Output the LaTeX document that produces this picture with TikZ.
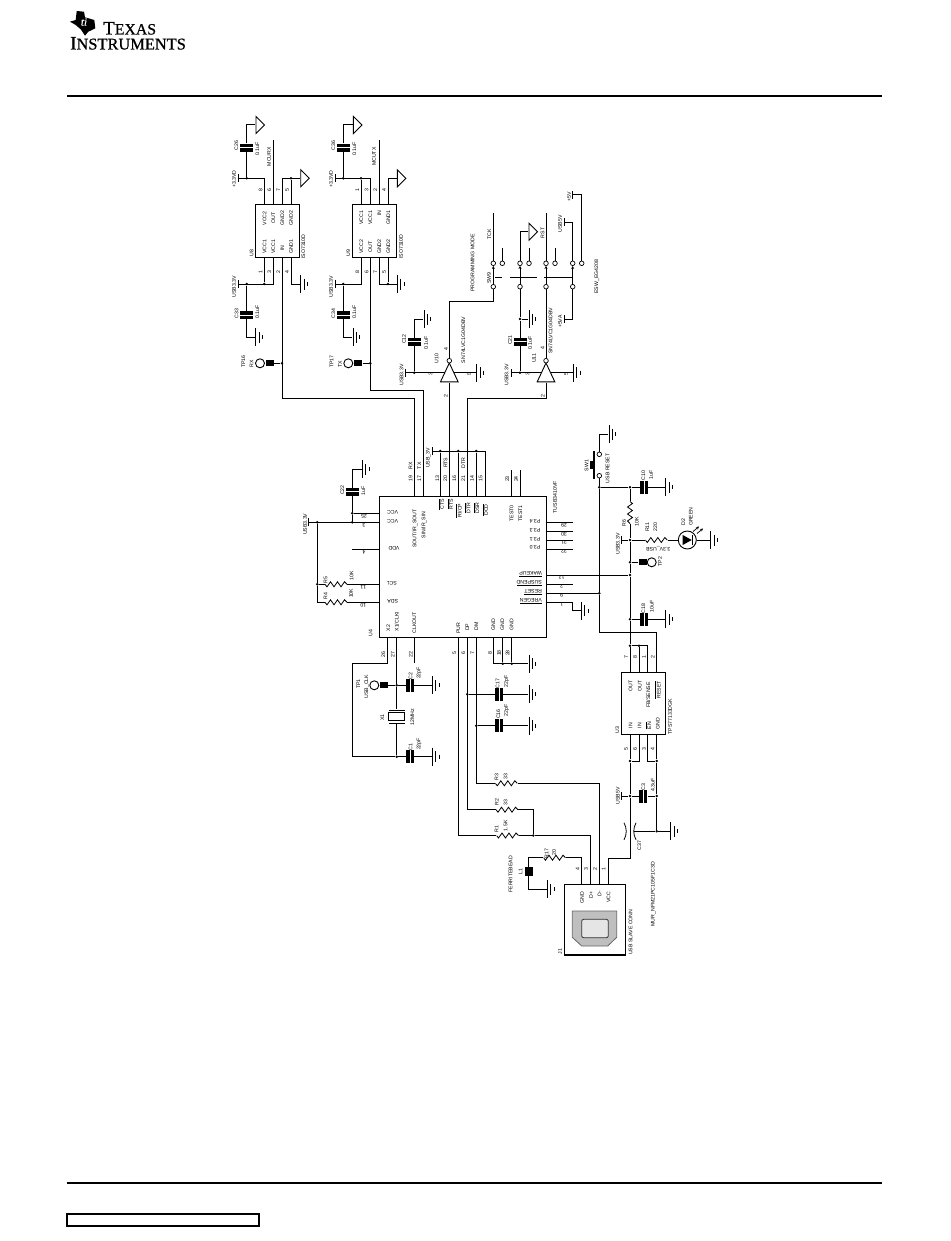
\documentclass[tikz,border=0pt]{standalone}
\usepackage{fontspec}
\setmainfont{Liberation Sans}
\newfontfamily\logofont[FakeBold=0.7]{Liberation Serif}
\usepackage{tikz}
\usetikzlibrary{arrows.meta,positioning,shapes,calc}
\newcommand{\ovr}[1]{$\overline{\mbox{#1}}$}

\begin{document}
\begin{tikzpicture}[
    x=1pt, y=-1pt,
    wire/.style={line width=1pt},
    lb/.style={inner sep=0pt, rotate=90, font=\fontsize{5.2}{6}\selectfont},
    lr/.style={inner sep=0pt, rotate=180, font=\fontsize{5.2}{6}\selectfont},
    chip/.style={rectangle, draw, line width=1.1pt, inner sep=0pt},
    dot/.style={circle, fill=black, inner sep=0pt, minimum size=2.8pt},
    pad/.style={circle, draw, line width=0.7pt, fill=white, inner sep=0pt, minimum size=4.6pt},
    tpad/.style={circle, draw, line width=0.9pt, fill=white, inner sep=0pt, minimum size=9pt},
    tsq/.style={rectangle, fill=black, inner sep=0pt, minimum width=8pt, minimum height=6pt},
    pwr/.style={rectangle, fill=black, inner sep=0pt, minimum width=1pt, minimum height=8pt},
    capa/.style={rectangle, fill=black, inner sep=0pt, minimum width=13pt, minimum height=8pt,
        path picture={\draw[white, line width=1pt] (path picture bounding box.west) -- (path picture bounding box.east);}},
    capb/.style={rectangle, fill=black, inner sep=0pt, minimum width=8pt, minimum height=13pt,
        path picture={\draw[white, line width=1pt] (path picture bounding box.north) -- (path picture bounding box.south);}},
    gnd/.style={rectangle, anchor=west, inner sep=0pt, minimum width=10pt, minimum height=20pt,
        path picture={\draw[line width=0.9pt, shift={(path picture bounding box.center)}]
            (-4.5,-9) -- (-4.5,9) (-1.2,-5.5) -- (-1.2,5.5) (2.2,-2) -- (2.2,2);}},
    tri/.style={rectangle, anchor=west, inner sep=0pt, minimum width=10pt, minimum height=19pt,
        path picture={\draw[line width=0.9pt, shift={(path picture bounding box.center)}]
            (-4.5,-8.5) -- (4,0) -- (-4.5,8.5) -- cycle;}},
    res/.style={rectangle, inner sep=0pt, minimum width=22pt, minimum height=7pt,
        path picture={\draw[line width=0.8pt, shift={(path picture bounding box.center)}]
            (-11,0) -- (-9,2.5) -- (-5.5,-2.5) -- (-2,2.5) -- (1.5,-2.5) -- (5,2.5) -- (8.5,-2.5) -- (11,0);}},
    resv/.style={rectangle, inner sep=0pt, minimum width=7pt, minimum height=22pt,
        path picture={\draw[line width=0.8pt, shift={(path picture bounding box.center)}]
            (0,-11) -- (2.5,-9) -- (-2.5,-5.5) -- (2.5,-2) -- (-2.5,1.5) -- (2.5,5) -- (-2.5,8.5) -- (0,11);}},
    inv/.style={rectangle, inner sep=0pt, minimum width=19pt, minimum height=20pt,
        path picture={\draw[line width=0.9pt, shift={(path picture bounding box.center)}]
            (0,-9.4) -- (8.8,9.4) -- (-8.8,9.4) -- cycle;}},
    xtal/.style={rectangle, inner sep=0pt, minimum width=17pt, minimum height=14.4pt,
        path picture={\draw[line width=0.9pt, shift={(path picture bounding box.center)}]
            (-7.8,-6.7) -- (7.8,-6.7) (-7.8,6.7) -- (7.8,6.7) (-7.8,-3.8) rectangle (7.8,3.8);}},
    feed/.style={rectangle, inner sep=0pt, minimum width=14pt, minimum height=18pt,
        path picture={\draw[line width=0.8pt, shift={(path picture bounding box.center)}]
            (-6,-8.5) .. controls (-3,-3) and (-3,3) .. (-6,8.5)
            (6,-8.5) .. controls (3,-3) and (3,3) .. (6,8.5);}},
    ledc/.style={circle, draw, line width=0.9pt, inner sep=0pt, minimum size=18pt,
        path picture={\fill[shift={(path picture bounding box.center)}] (-4.6,-5) -- (4.4,0) -- (-4.6,5) -- cycle;
            \draw[line width=0.9pt, shift={(path picture bounding box.center)}] (4.8,-5) -- (4.8,5);}},
    rarrow/.style={-{Stealth[length=3pt,width=3pt]}, line width=0.7pt}
]
    \useasboundingbox (0,0) rectangle (950,1241);

    % Logo and page frame
    \fill (76.7,11) -- (84,11.7) -- (85,17.3) -- (94.3,20) -- (95.3,28.3) -- (88.3,31.7) -- (85,35.7)
        -- (80.7,29.3) -- (75.7,25) -- (70,21.7) -- (75.7,20) -- cycle;
    \node[inner sep=0pt, white, font=\logofont\itshape\fontsize{11}{11}\selectfont] (logoti) at (84,22) {ti};
    \node[anchor=base west, inner sep=0pt, font=\logofont] (logoa) at (103,34.5) {\fontsize{19}{19}\selectfont T\fontsize{15.8}{16}\selectfont EXAS};
    \node[anchor=base west, inner sep=0pt, font=\logofont] (logob) at (70,49.5) {\fontsize{19}{19}\selectfont I\fontsize{16.4}{16}\selectfont NSTRUMENTS};
    \coordinate (topl) at (67,96); \coordinate (topr) at (882,96);
    \coordinate (botl) at (67,1183); \coordinate (botr) at (882,1183);
    \draw[line width=2.4pt] (topl) -- (topr);
    \draw[line width=2pt] (botl) -- (botr);
    \draw[line width=1.5pt] (67,1214) rectangle (259,1226);

    % U8 isolator
    \node[chip, minimum width=44pt, minimum height=53.4pt] (u8) at (277.3,231) {};
    \coordinate (u8p8) at (264.3,204.3); \coordinate (u8p6) at (273.3,204.3);
    \coordinate (u8p7) at (282,204.3); \coordinate (u8p5) at (291,204.3);
    \coordinate (u8p1) at (264.3,257.7); \coordinate (u8p3) at (273.3,257.7);
    \coordinate (u8p2) at (282,257.7); \coordinate (u8p4) at (291,257.7);
    \coordinate (mcurx) at (273.3,140);
    \coordinate (rxk) at (414.3,398.3);
    \node[pwr] (vd8) at (238.3,178.3) {};
    \node[pwr] (usb8) at (238.3,284) {};
    \node[dot] (d8a) at (246.7,178.3) {};
    \node[dot] (d8b) at (246.7,284) {};
    \node[dot] (d8c) at (264.3,284) {};
    \node[dot] (d8d) at (291,178.3) {};
    \node[dot] (d8e) at (282,363.3) {};
    \node[capa] (c26) at (246.7,147.7) {};
    \node[capa] (c33) at (246.7,315) {};
    \node[tri] (t8a) at (255.3,125) {};
    \node[tri] (t8b) at (300,178.3) {};
    \node[gnd] (g8) at (300,284) {};
    \node[gnd] (g33) at (255,337.3) {};
    \node[tpad] (tp16c) at (260,363.3) {};
    \node[tsq] (tp16s) at (270,363.3) {};

    % U9 isolator
    \node[chip, minimum width=44.4pt, minimum height=53.4pt] (u9) at (374.5,231) {};
    \coordinate (u9p1) at (361,204.3); \coordinate (u9p3) at (370.3,204.3);
    \coordinate (u9p2) at (379.3,204.3); \coordinate (u9p4) at (388,204.3);
    \coordinate (u9p8) at (361,257.7); \coordinate (u9p6) at (370.3,257.7);
    \coordinate (u9p7) at (379.3,257.7); \coordinate (u9p5) at (388,257.7);
    \coordinate (mcutx) at (379.3,140);
    \coordinate (txk) at (423.3,390);
    \node[pwr] (vd9) at (335,178.3) {};
    \node[pwr] (usb9) at (335,284) {};
    \node[dot] (d9a) at (343.3,178.3) {};
    \node[dot] (d9b) at (343.3,284) {};
    \node[dot] (d9c) at (361,178.3) {};
    \node[dot] (d9d) at (388,284) {};
    \node[dot] (d9e) at (370.3,363.3) {};
    \node[capa] (c36) at (343.3,147.7) {};
    \node[capa] (c34) at (343.3,315) {};
    \node[tri] (t9a) at (352.7,125) {};
    \node[tri] (t9b) at (396.7,178.3) {};
    \node[gnd] (g9) at (396.7,284) {};
    \node[gnd] (g34) at (352.3,337.3) {};
    \node[tpad] (tp17c) at (348.3,363.3) {};
    \node[tsq] (tp17s) at (358.3,363.3) {};

    % Inverters
    \node[inv] (u10) at (449.3,372.4) {};
    \node[pad] (u10i) at (449.3,360.7) {};
    \coordinate (u10l) at (444.7,372.7); \coordinate (u10r) at (453.9,372.7);
    \node[pwr] (pw10) at (405,372.7) {};
    \node[dot] (d10) at (414.3,372.7) {};
    \node[capa] (c12) at (414.3,341.7) {};
    \node[gnd] (g12) at (423.3,319) {};
    \node[gnd] (g10) at (476,372.7) {};
    \node[inv] (u11) at (546,372.4) {};
    \node[pad] (u11i) at (546,360.7) {};
    \coordinate (u11l) at (541.4,372.7); \coordinate (u11r) at (550.6,372.7);
    \node[pwr] (pw11) at (511.7,372.7) {};
    \node[dot] (d11) at (520,372.7) {};
    \node[dot] (d21) at (520,319) {};
    \node[capa] (c21) at (520,341.7) {};
    \node[gnd] (g21) at (528.3,319) {};
    \node[gnd] (g11) at (572.7,372.7) {};

    % Mode switch
    \foreach \nm/\x in {a/493.3, b/520, c/546, d/572.7} {
        \node[pad] (sw\nm t) at (\x,263.3) {};
        \node[pad] (sw\nm b) at (\x,286.7) {};
        \draw[rarrow] (sw\nm b) -- (sw\nm t);
    }
    \node[pad] (swax) at (502.3,263.3) {};
    \node[pad] (swbx) at (529,263.3) {};
    \node[pad] (swcx) at (555,263.3) {};
    \node[pad] (swdx) at (581.7,263.3) {};
    \coordinate (stuba) at (502.3,248.3); \coordinate (stubb) at (529,248.3); \coordinate (stubc) at (555,248.3);
    \coordinate (tck) at (493.3,213.3); \coordinate (rst) at (546,213.3);
    \coordinate (dsa) at (495,277.3); \coordinate (dsb) at (501.7,277.3);
    \coordinate (dsc) at (510,277.3); \coordinate (dsd) at (536.7,277.3);
    \coordinate (dse) at (544.3,277.3); \coordinate (dsf) at (571.7,277.3);
    \coordinate (swk) at (493.3,301.3);
    \node[tri] (trst) at (528.3,231.7) {};
    \node[pwr] (p5v) at (572.7,195) {};
    \node[pwr] (pusb5) at (564.7,222.3) {};
    \node[pwr] (p5va) at (564.7,319) {};

    % U4 bridge
    \node[chip, minimum width=167.4pt, minimum height=140.6pt] (u4) at (463,567) {};
    \coordinate (p19) at (414.3,496.7); \coordinate (p17) at (423.3,496.7);
    \coordinate (p13) at (440.3,496.7); \coordinate (p20) at (449.3,496.7);
    \coordinate (p16) at (458.3,496.7); \coordinate (p21) at (467.3,496.7);
    \coordinate (p14) at (476.3,496.7); \coordinate (p15) at (485,496.7);
    \coordinate (p23) at (511.7,496.7); \coordinate (p24) at (520.3,496.7);
    \coordinate (p23e) at (511.7,470); \coordinate (p24e) at (520.3,470);
    \coordinate (dtrk) at (467.3,398.3);
    \node[pwr] (pbus) at (432,451) {};
    \node[dot] (db13) at (440.3,451) {};
    \node[dot] (db16) at (458.3,451) {};
    \node[dot] (db14) at (476.3,451) {};
    \coordinate (p25) at (379.3,513.3); \coordinate (p3) at (379.3,522.3);
    \coordinate (p4) at (379.3,549.3); \coordinate (p4e) at (352.3,549.3);
    \coordinate (p11) at (379.3,584.3); \coordinate (p10) at (379.3,602.3);
    \node[pwr] (pu4) at (308.3,522.3) {};
    \node[dot] (dv0) at (317.3,522.3) {};
    \node[dot] (dv1) at (352.3,522.3) {};
    \node[dot] (dv2) at (352.3,513.3) {};
    \node[dot] (dv3) at (317.3,584.3) {};
    \node[capa] (c22) at (352.3,491.7) {};
    \node[gnd] (g22) at (361.7,469.3) {};
    \node[res] (r5) at (336,584.3) {};
    \node[res] (r4) at (336,602.3) {};
    \coordinate (p29) at (546.7,522.3); \coordinate (p29e) at (573.3,522.3);
    \coordinate (p30) at (546.7,531.3); \coordinate (p30e) at (573.3,531.3);
    \coordinate (p31) at (546.7,540.3); \coordinate (p31e) at (573.3,540.3);
    \coordinate (p32) at (546.7,549); \coordinate (p32e) at (573.3,549);
    \coordinate (p12) at (546.7,575); \coordinate (p2) at (546.7,584.3);
    \coordinate (p2e) at (573.3,584.3); \coordinate (p9) at (546.7,593.3);
    \coordinate (p1) at (546.7,602.3); \coordinate (p1k) at (572.3,602.3);
    \node[gnd] (g1) at (580.7,610.7) {};
    \coordinate (px2) at (387.3,637.3); \coordinate (px1) at (396.7,637.3);
    \coordinate (pclk) at (414.3,637.3); \coordinate (pclke) at (414.3,663);
    \coordinate (ppur) at (458.3,637.3); \coordinate (pdp) at (467.3,637.3);
    \coordinate (pdm) at (476.3,637.3);
    \coordinate (pg8) at (493.7,637.3); \coordinate (pg18) at (502.7,637.3); \coordinate (pg28) at (511.7,637.3);
    \coordinate (xk) at (352.3,663.3);
    \node[dot] (dg18) at (502.7,663.7) {};
    \node[dot] (dg28) at (511.7,663.7) {};
    \node[gnd] (g28) at (528.3,663.7) {};

    % Clock
    \node[dot] (dc2) at (396.7,685.3) {};
    \node[dot] (dc1) at (396.7,756.7) {};
    \node[capb] (c2) at (410,685.3) {};
    \node[capb] (c1) at (410,756.7) {};
    \node[gnd] (gc2) at (431.7,685.3) {};
    \node[gnd] (gc1) at (431.7,756.7) {};
    \node[xtal] (x1) at (396.7,716.7) {};
    \node[tpad] (tp1c) at (374.3,685.3) {};
    \node[tsq] (tp1s) at (384,685.3) {};

    % USB lines
    \node[dot] (ddp) at (467.3,694.3) {};
    \node[dot] (ddm) at (476.3,725.7) {};
    \node[capb] (c17) at (499,694.3) {};
    \node[capb] (c16) at (499,725.7) {};
    \node[gnd] (g17) at (528.3,694.3) {};
    \node[gnd] (g16) at (528.3,725.7) {};
    \node[res] (r3) at (506.3,783.3) {};
    \node[res] (r2) at (507,809.7) {};
    \node[res] (r1) at (507.5,835.5) {};
    \node[dot] (dr) at (533.3,835.5) {};
    \node[res] (r17) at (554.5,857.7) {};
    \node[rectangle, fill=black, inner sep=0pt, minimum width=8pt, minimum height=9pt] (l1) at (528.7,871.2) {};
    \node[gnd] (gl1) at (546.7,889.3) {};

    % J1 connector
    \node[chip, minimum width=60.6pt, minimum height=70.7pt] (j1) at (595,919.6) {};
    \coordinate (j1p4) at (581.7,884.3); \coordinate (j1p3) at (590.3,884.3);
    \coordinate (j1p2) at (599.3,884.3); \coordinate (j1p1) at (608,884.3);
    \coordinate (j1k) at (608,858.3);
    \draw[line width=0.8pt, black!60, fill=black!25] (572.3,911) -- (616.7,911) -- (616.7,937.3) -- (607.7,946) -- (581.7,946) -- (572.3,937.3) -- cycle;
    \draw[line width=0.8pt, black!80, fill=black!10, rounded corners=2pt] (581.7,919.3) rectangle (608.3,937.7);

    % Reset and LDO
    \node[rectangle, fill=black, inner sep=0pt, minimum width=1.6pt, minimum height=28.6pt] (sw1bar) at (594,465) {};
    \node[rectangle, fill=black, inner sep=0pt, minimum width=4pt, minimum height=8.6pt] (sw1btn) at (591.5,465) {};
    \node[pad] (sw1u) at (599.3,454.3) {};
    \node[pad] (sw1d) at (599.3,475.7) {};
    \node[gnd] (gsw1) at (608.3,434.3) {};
    \node[dot] (dra) at (599.3,487.3) {};
    \node[dot] (drb) at (599.3,593.3) {};
    \node[dot] (dla) at (630,487.3) {};
    \node[dot] (dlb) at (630,540) {};
    \node[dot] (dlc) at (630,562.3) {};
    \node[dot] (dld) at (630,575) {};
    \node[dot] (dle) at (630,619.3) {};
    \node[dot] (dlf) at (630,645.7) {};
    \node[dot] (dlg) at (639,645.7) {};
    \node[capb] (c10) at (644,487.3) {};
    \node[capb] (c18) at (644,619.3) {};
    \node[gnd] (g10b) at (665,487.3) {};
    \node[gnd] (g18) at (665,619.3) {};
    \node[resv] (r6) at (630,512.5) {};
    \node[res] (r11) at (656.3,540) {};
    \node[pwr] (pled) at (621.7,540) {};
    \node[ledc] (d2) at (687.3,540) {};
    \node[gnd] (gd2) at (710,540) {};
    \coordinate (lea) at (693,531.5); \coordinate (leb) at (699,526.5);
    \coordinate (lec) at (697,533.5); \coordinate (led) at (703,528.5);
    \node[tsq] (tp2s) at (642.5,562.3) {};
    \node[tpad] (tp2c) at (651.7,562.3) {};
    \node[chip, minimum width=44pt, minimum height=62pt] (u3) at (643.7,703.3) {};
    \coordinate (u3p7) at (630,672.3); \coordinate (u3p8) at (639,672.3);
    \coordinate (u3p1) at (647.7,672.3); \coordinate (u3p2) at (656.7,672.3);
    \coordinate (u3p5) at (630,734.3); \coordinate (u3p6) at (639,734.3);
    \coordinate (u3p3) at (647.7,734.3); \coordinate (u3p4) at (656.7,734.3);
    \coordinate (u3k) at (656.7,632.3);
    \node[dot] (dia) at (630,761) {};
    \node[dot] (dib) at (656.7,761) {};
    \node[dot] (dic) at (630,796) {};
    \node[dot] (did) at (656.7,796) {};
    \node[dot] (die) at (656.7,831.3) {};
    \node[capb] (c3) at (643.3,796) {};
    \node[pwr] (pin) at (621,796) {};
    \node[feed] (c37) at (630,831.3) {};
    \coordinate (c37r) at (633.5,831.3);
    \node[gnd] (g37) at (670,831.3) {};

    % Wires, U8
    \draw[wire] (vd8) -| (u8p8);
    \draw[wire] (d8a) -- (c26.south);
    \draw[wire] (c26.north) |- (t8a.west);
    \draw[wire] (u8p6) -- (mcurx);
    \draw[wire] (u8p7) |- (t8b.west);
    \draw[wire] (d8d) -- (u8p5);
    \draw[wire] (usb8) -| (u8p3);
    \draw[wire] (d8c) -- (u8p1);
    \draw[wire] (u8p4) |- (g8.west);
    \draw[wire] (d8b) -- (c33.north);
    \draw[wire] (c33.south) |- (g33.west);
    \draw[wire] (u8p2) |- (rxk) -- (p19);
    \draw[wire] (tp16s) -- (d8e);

    % Wires, U9
    \draw[wire] (vd9) -| (u9p3);
    \draw[wire] (d9c) -- (u9p1);
    \draw[wire] (d9a) -- (c36.south);
    \draw[wire] (c36.north) |- (t9a.west);
    \draw[wire] (u9p2) -- (mcutx);
    \draw[wire] (u9p4) |- (t9b.west);
    \draw[wire] (usb9) -| (u9p8);
    \draw[wire] (u9p7) |- (g9.west);
    \draw[wire] (d9d) -- (u9p5);
    \draw[wire] (d9b) -- (c34.north);
    \draw[wire] (c34.south) |- (g34.west);
    \draw[wire] (u9p6) |- (txk) -- (p17);
    \draw[wire] (tp17s) -- (d9e);

    % Wires, inverters and switch
    \draw[wire] (pw10) -- (u10l);
    \draw[wire] (u10r) -- (g10.west);
    \draw[wire] (d10) -- (c12.south);
    \draw[wire] (c12.north) |- (g12.west);
    \draw[wire] (u10.south) -- (p20);
    \draw[wire] (u10i) |- (swk) -- (swab);
    \draw[wire] (pw11) -- (u11l);
    \draw[wire] (u11r) -- (g11.west);
    \draw[wire] (d11) -- (c21.south);
    \draw[wire] (c21.north) -- (d21);
    \draw[wire] (d21) -- (g21.west);
    \draw[wire] (d21) -- (swbb);
    \draw[wire] (u11.south) |- (dtrk) -- (p21);
    \draw[wire] (u11i) -- (swcb);
    \draw[wire] (swat) -- (tck);
    \draw[wire] (swct) -- (rst);
    \draw[wire] (swbt) |- (trst.west);
    \draw[wire] (swdt) |- (pusb5);
    \draw[wire] (swdb) |- (p5va);
    \draw[wire] (swdx) |- (p5v);
    \draw[wire] (swax) -- (stuba);
    \draw[wire] (swbx) -- (stubb);
    \draw[wire] (swcx) -- (stubc);
    \draw[wire] (dsa) -- (dsb);
    \draw[wire] (dsc) -- (dsd);
    \draw[wire] (dse) -- (dsf);

    % Wires, U4
    \draw[wire] (pbus) -| (p15);
    \draw[wire] (db13) -- (p13);
    \draw[wire] (db16) -- (p16);
    \draw[wire] (db14) -- (p14);
    \draw[wire] (p23) -- (p23e);
    \draw[wire] (p24) -- (p24e);
    \draw[wire] (pu4) -- (p3);
    \draw[wire] (dv2) -- (p25);
    \draw[wire] (dv1) -- (dv2);
    \draw[wire] (dv2) -- (c22.south);
    \draw[wire] (c22.north) |- (g22.west);
    \draw[wire] (p4) -- (p4e);
    \draw[wire] (dv0) -- (dv3);
    \draw[wire] (dv3) -- (r5.west);
    \draw[wire] (dv3) |- (r4.west);
    \draw[wire] (r5.east) -- (p11);
    \draw[wire] (r4.east) -- (p10);
    \draw[wire] (p29) -- (p29e);
    \draw[wire] (p30) -- (p30e);
    \draw[wire] (p31) -- (p31e);
    \draw[wire] (p32) -- (p32e);
    \draw[wire] (p12) -- (dld);
    \draw[wire] (p2) -- (p2e);
    \draw[wire] (p9) -- (drb);
    \draw[wire] (p1) -- (p1k) |- (g1.west);
    \draw[wire] (pclk) -- (pclke);
    \draw[wire] (pg8) |- (g28.west);
    \draw[wire] (pg18) -- (dg18);
    \draw[wire] (pg28) -- (dg28);

    % Wires, clock
    \draw[wire] (px2) |- (xk) |- (dc1);
    \draw[wire] (px1) -- (dc2);
    \draw[wire] (dc2) -- (x1.north);
    \draw[wire] (x1.south) -- (dc1);
    \draw[wire] (dc2) -- (c2.west);
    \draw[wire] (c2.east) -- (gc2.west);
    \draw[wire] (dc1) -- (c1.west);
    \draw[wire] (c1.east) -- (gc1.west);
    \draw[wire] (tp1s) -- (dc2);

    % Wires, USB
    \draw[wire] (ppur) |- (r1.west);
    \draw[wire] (pdp) |- (r2.west);
    \draw[wire] (pdm) |- (r3.west);
    \draw[wire] (ddp) -- (c17.west);
    \draw[wire] (c17.east) -- (g17.west);
    \draw[wire] (ddm) -- (c16.west);
    \draw[wire] (c16.east) -- (g16.west);
    \draw[wire] (r1.east) -- (dr);
    \draw[wire] (dr) -| (j1p3);
    \draw[wire] (r2.east) -| (dr);
    \draw[wire] (r3.east) -| (j1p2);
    \draw[wire] (j1p4) |- (r17.east);
    \draw[wire] (r17.west) -| (l1.north);
    \draw[wire] (l1.south) |- (gl1.west);

    % Wires, reset and LDO
    \draw[wire] (sw1u) |- (gsw1.west);
    \draw[wire] (sw1d) -- (dra);
    \draw[wire] (dra) -- (drb);
    \draw[wire] (drb) |- (u3k) -- (u3p2);
    \draw[wire] (dra) -- (dla);
    \draw[wire] (dla) -- (c10.west);
    \draw[wire] (c10.east) -- (g10b.west);
    \draw[wire] (dla) -- (r6.north);
    \draw[wire] (r6.south) -- (dlb);
    \draw[wire] (pled) -- (dlb);
    \draw[wire] (dlb) -- (r11.west);
    \draw[wire] (r11.east) -- (d2.west);
    \draw[wire] (d2.east) -- (gd2.west);
    \draw[rarrow] (lea) -- (leb);
    \draw[rarrow] (lec) -- (led);
    \draw[wire] (dlb) -- (dlc);
    \draw[wire] (dlc) -- (tp2s);
    \draw[wire] (dlc) -- (dld);
    \draw[wire] (dld) -- (dle);
    \draw[wire] (dle) -- (c18.west);
    \draw[wire] (c18.east) -- (g18.west);
    \draw[wire] (dle) -- (dlf);
    \draw[wire] (dlf) -- (u3p7);
    \draw[wire] (dlg) -- (u3p8);
    \draw[wire] (dlf) -| (u3p1);
    \draw[wire] (u3p5) -- (dia);
    \draw[wire] (u3p6) |- (dia);
    \draw[wire] (u3p4) -- (dib);
    \draw[wire] (u3p3) |- (dib);
    \draw[wire] (dia) -- (dic);
    \draw[wire] (dib) -- (did);
    \draw[wire] (did) -- (die);
    \draw[wire] (pin) -- (dic);
    \draw[wire] (dic) -- (c3.west);
    \draw[wire] (c3.east) -- (did);
    \draw[wire] (dic) |- (j1k) -- (j1p1);
    \draw[wire] (c37r) -- (die);
    \draw[wire] (die) -- (g37.west);

    % Labels, U8
    \node[lb] (l1a) at (236.3,145.7) {C26};
    \node[lb] (l1b) at (257.3,149.3) {0.1uF};
    \node[lb] (l1c) at (269,156.7) {MCURX};
    \node[lb] (l1d) at (234,179) {+3.3VD};
    \node[lb] (l1e) at (234,286.7) {USB3.3V};
    \node[lb] (l1f) at (251.7,253.3) {U8};
    \node[lb] (l1g) at (303.3,246.7) {ISO7310D};
    \node[lb] (l1h) at (264.7,218.3) {VCC2};
    \node[lb] (l1i) at (273.3,218.3) {OUT};
    \node[lb] (l1j) at (282.3,218.3) {GND2};
    \node[lb] (l1k) at (291,218.3) {GND2};
    \node[lb] (l1l) at (264.7,246.7) {VCC1};
    \node[lb] (l1m) at (273.3,246.7) {VCC1};
    \node[lb] (l1n) at (282.3,248.3) {IN};
    \node[lb] (l1o) at (291,246.7) {GND1};
    \node[lb] (l1p) at (260.7,190) {8};
    \node[lb] (l1q) at (269.3,190) {6};
    \node[lb] (l1r) at (278.3,190) {7};
    \node[lb] (l1s) at (287,190) {5};
    \node[lb] (l1t) at (260.7,272.3) {1};
    \node[lb] (l1u) at (269.3,272.3) {3};
    \node[lb] (l1v) at (278.3,272.3) {2};
    \node[lb] (l1w) at (287,272.3) {4};
    \node[lb] (l1x) at (236.7,313.3) {C33};
    \node[lb] (l1y) at (257.3,311.7) {0.1uF};
    \node[lb] (l1z) at (243.3,361.7) {TP16};
    \node[lb] (l1aa) at (251.7,364) {RX};

    % Labels, U9
    \node[lb] (l2a) at (333.3,145.7) {C36};
    \node[lb] (l2b) at (354.3,149.3) {0.1uF};
    \node[lb] (l2c) at (374,156.7) {MCUTX};
    \node[lb] (l2d) at (331,179) {+3.3VD};
    \node[lb] (l2e) at (331,286.7) {USB3.3V};
    \node[lb] (l2f) at (348.3,253.3) {U9};
    \node[lb] (l2g) at (401,246.7) {ISO7310D};
    \node[lb] (l2h) at (361.3,217.7) {VCC1};
    \node[lb] (l2i) at (370.3,217.7) {VCC1};
    \node[lb] (l2j) at (379.3,213.3) {IN};
    \node[lb] (l2k) at (388.3,217.7) {GND1};
    \node[lb] (l2l) at (361.3,246.7) {VCC2};
    \node[lb] (l2m) at (370.3,246.7) {OUT};
    \node[lb] (l2n) at (379.3,246.7) {GND2};
    \node[lb] (l2o) at (388.3,246.7) {GND2};
    \node[lb] (l2p) at (357.3,190) {1};
    \node[lb] (l2q) at (366.7,190) {3};
    \node[lb] (l2r) at (375.3,190) {2};
    \node[lb] (l2s) at (384,190) {4};
    \node[lb] (l2t) at (357.3,272.3) {8};
    \node[lb] (l2u) at (366.7,272.3) {6};
    \node[lb] (l2v) at (375.3,272.3) {7};
    \node[lb] (l2w) at (384,272.3) {5};
    \node[lb] (l2x) at (333.3,313.3) {C34};
    \node[lb] (l2y) at (354.3,311.7) {0.1uF};
    \node[lb] (l2z) at (331.7,361.7) {TP17};
    \node[lb] (l2aa) at (340,364) {TX};

    % Labels, inverters and switch
    \node[lb] (l3a) at (404,339) {C12};
    \node[lb] (l3b) at (426,343.3) {0.1uF};
    \node[lb] (l3c) at (436.7,358.3) {U10};
    \node[lb] (l3d) at (463.3,340) {SN74LVC1G04DBV};
    \node[lb] (l3e) at (401.7,375) {USB3.3V};
    \node[lb] (l3f) at (446,349) {4};
    \node[lb] (l3g) at (430.7,374) {3};
    \node[lb] (l3h) at (469.3,374) {5};
    \node[lb] (l3i) at (445.7,395.7) {2};
    \node[lb] (l3j) at (510,340) {C21};
    \node[lb] (l3k) at (530,343.3) {0.1uF};
    \node[lb] (l3l) at (534,358.3) {U11};
    \node[lb] (l3m) at (550.7,330.7) {SN74LVC1G04DBV};
    \node[lb] (l3n) at (506.7,375) {USB3.3V};
    \node[lb] (l3o) at (542.7,348.3) {4};
    \node[lb] (l3p) at (527.7,374) {3};
    \node[lb] (l3q) at (566,374) {5};
    \node[lb] (l3r) at (542.7,395.7) {2};
    \node[lb] (l3s) at (472.7,263) {PROGRAMMING MODE};
    \node[lb] (l3t) at (489,278) {SW9};
    \node[lb] (l3u) at (489.3,234) {TCK};
    \node[lb] (l3v) at (542.7,233) {RST};
    \node[lb] (l3w) at (560,224) {USB5V};
    \node[lb] (l3x) at (560,321.7) {+5VA};
    \node[lb] (l3y) at (569,196.7) {+5V};
    \node[lb] (l3z) at (596.7,276.7) {ESW\_EG4208};

    % Labels, U4 top
    \node[lb] (l4a) at (410.7,465.7) {RX};
    \node[lb] (l4b) at (419.3,465.7) {TX};
    \node[lb] (l4c) at (428.3,458) {USB\_3V};
    \node[lb] (l4d) at (445.7,462.7) {RTS};
    \node[lb] (l4e) at (463.3,463.3) {DTR};
    \node[lb] (l4f) at (410.7,478.3) {19};
    \node[lb] (l4g) at (419.3,478.3) {17};
    \node[lb] (l4h) at (437.3,478.3) {13};
    \node[lb] (l4i) at (445.3,478.3) {20};
    \node[lb] (l4j) at (454.3,478.3) {16};
    \node[lb] (l4k) at (463.3,478.3) {21};
    \node[lb] (l4l) at (472,478.3) {14};
    \node[lb] (l4m) at (480.7,478.3) {15};
    \node[lb] (l4n) at (507.3,479) {23};
    \node[lb] (l4o) at (516,479) {24};
    \node[lb] (l4p) at (415,528.3) {SOUT/IR\_SOUT};
    \node[lb] (l4q) at (424,525) {SIN/IR\_SIN};
    \node[lb] (l4r) at (441,504.3) {\ovr{CTS}};
    \node[lb] (l4s) at (450,504.3) {\ovr{RTS}};
    \node[lb] (l4t) at (458.7,510.7) {\ovr{RI/CP}};
    \node[lb] (l4u) at (467.7,508) {\ovr{DTR}};
    \node[lb] (l4v) at (476.3,508) {\ovr{DSR}};
    \node[lb] (l4w) at (485,510) {\ovr{DCD}};
    \node[lb] (l4x) at (511.7,513.3) {TEST0};
    \node[lb] (l4y) at (520.3,513.3) {TEST1};
    \node[lb] (l4z) at (555,497.3) {TUSB3410VF};

    % Labels, U4 left and right
    \node[lr] (l5a) at (392.7,512.7) {VCC};
    \node[lr] (l5b) at (392.7,521.7) {VCC};
    \node[lr] (l5c) at (394,548.3) {VDD};
    \node[lr] (l5d) at (391.7,583.3) {SCL};
    \node[lr] (l5e) at (392.7,601) {SDA};
    \node[lr] (l5f) at (364,516.7) {25};
    \node[lr] (l5g) at (364,525.3) {3};
    \node[lr] (l5h) at (364,552.3) {4};
    \node[lr] (l5i) at (363.3,587) {11};
    \node[lr] (l5j) at (363.3,605) {10};
    \node[lb] (l5k) at (342.3,490) {C22};
    \node[lb] (l5l) at (363.3,490.7) {1uF};
    \node[lb] (l5m) at (305,524.3) {USB3.3V};
    \node[lb] (l5n) at (325.7,580) {R5};
    \node[lb] (l5o) at (351.7,576) {10K};
    \node[lb] (l5p) at (325.7,596) {R4};
    \node[lb] (l5q) at (351,593.3) {10K};
    \node[lr] (l5r) at (535,521) {P3.4};
    \node[lr] (l5s) at (535,530) {P3.3};
    \node[lr] (l5t) at (535,539) {P3.1};
    \node[lr] (l5u) at (535,547.3) {P3.0};
    \node[lr] (l5v) at (564,525) {29};
    \node[lr] (l5w) at (564,534) {30};
    \node[lr] (l5x) at (564,542.7) {31};
    \node[lr] (l5y) at (564,551.7) {32};
    \node[lr, anchor=west] (l5z) at (542,574.3) {\ovr{WAKEUP}};
    \node[lr, anchor=west] (l5aa) at (542,583.3) {\ovr{SUSPEND}};
    \node[lr, anchor=west] (l5ab) at (542,592.3) {\ovr{RESET}};
    \node[lr, anchor=west] (l5ac) at (542,601) {\ovr{VREGEN}};
    \node[lr] (l5ad) at (561.7,577.3) {12};
    \node[lr] (l5ae) at (561.7,586.3) {2};
    \node[lr] (l5af) at (561.7,595) {9};
    \node[lr] (l5ag) at (561.7,604.3) {1};

    % Labels, U4 bottom and clock
    \node[lb] (l6a) at (388.3,628) {X2};
    \node[lb] (l6b) at (396.7,621.7) {X1/CLKI};
    \node[lb] (l6c) at (414.3,622.7) {CLKOUT};
    \node[lb] (l6d) at (458.3,628.3) {PUR};
    \node[lb] (l6e) at (467.3,627.3) {DP};
    \node[lb] (l6f) at (476.3,626.7) {DM};
    \node[lb] (l6g) at (493.3,625) {GND};
    \node[lb] (l6h) at (502.3,625) {GND};
    \node[lb] (l6i) at (511.7,625) {GND};
    \node[lb] (l6j) at (370.7,633.3) {U4};
    \node[lb] (l6k) at (383.3,654.3) {26};
    \node[lb] (l6l) at (392.7,654.3) {27};
    \node[lb] (l6m) at (410.7,654.3) {22};
    \node[lb] (l6n) at (454.3,652.7) {5};
    \node[lb] (l6o) at (463.3,652.7) {6};
    \node[lb] (l6p) at (472.3,652.7) {7};
    \node[lb] (l6q) at (490,652.7) {8};
    \node[lb] (l6r) at (499,653) {18};
    \node[lb] (l6s) at (507.7,653) {28};
    \node[lb] (l6t) at (358.3,684) {TP1};
    \node[lb] (l6u) at (366.7,686.7) {USB\_CLK};
    \node[lb] (l6v) at (410.7,676) {C2};
    \node[lb] (l6w) at (419,673) {22pF};
    \node[lb] (l6x) at (410.7,747.3) {C1};
    \node[lb] (l6y) at (419,744) {22pF};
    \node[lb] (l6z) at (382.3,717.3) {X1};
    \node[lb] (l6aa) at (412.3,717.3) {12MHz};
    \node[lb] (l6ab) at (497.7,683.3) {C17};
    \node[lb] (l6ac) at (506.7,681.7) {22pF};
    \node[lb] (l6ad) at (498.3,714) {C16};
    \node[lb] (l6ae) at (506.7,710.7) {22pF};

    % Labels, USB
    \node[lb] (l7a) at (496.7,776.7) {R3};
    \node[lb] (l7b) at (505.7,776.7) {33};
    \node[lb] (l7c) at (496.7,802.3) {R2};
    \node[lb] (l7d) at (505.7,802.3) {33};
    \node[lb] (l7e) at (496.7,829) {R1};
    \node[lb] (l7f) at (505.7,825.7) {1.5K};
    \node[lb] (l7g) at (546.7,853.3) {R17};
    \node[lb] (l7h) at (554,852.7) {20};
    \node[lb] (l7i) at (520.7,871.7) {L1};
    \node[lb] (l7j) at (510.7,874.3) {FERRITEBEAD};
    \node[lb] (l7k) at (577.7,869.3) {4};
    \node[lb] (l7l) at (586,869.3) {3};
    \node[lb] (l7m) at (595,869.3) {2};
    \node[lb] (l7n) at (603.7,869.3) {1};
    \node[lb] (l7o) at (582,897.7) {GND};
    \node[lb] (l7p) at (591,895) {D+};
    \node[lb] (l7q) at (599.7,893.3) {D-};
    \node[lb] (l7r) at (608.7,897.3) {VCC};
    \node[lb] (l7s) at (560,951.7) {J1};
    \node[lb] (l7t) at (630.7,932.3) {USB SLAVE CONN};
    \node[lb] (l7u) at (653.3,894.3) {MUR\_NFM21PC105F1C3D};
    \node[lb] (l7v) at (639.3,845.3) {C37};

    % Labels, reset and LDO
    \node[lb] (l8a) at (586.7,465.7) {SW1};
    \node[lb] (l8b) at (607.7,468.3) {USB RESET};
    \node[lb] (l8c) at (643.3,475.7) {C10};
    \node[lb] (l8d) at (651,475) {1uF};
    \node[lb] (l8e) at (624,523.3) {R6};
    \node[lb] (l8f) at (636.7,521.7) {10K};
    \node[lb] (l8g) at (617.7,544) {USB3.3V};
    \node[lb] (l8h) at (647.3,527.3) {R11};
    \node[lb] (l8i) at (655.3,527.3) {220};
    \node[lr] (l8j) at (658.3,549) {3.3V\_USB};
    \node[lb] (l8k) at (683.3,521.7) {D2};
    \node[lb] (l8l) at (690.7,516.7) {GREEN};
    \node[lb] (l8m) at (660,561.7) {TP2};
    \node[lb] (l8n) at (643.3,608.3) {C18};
    \node[lb] (l8o) at (651.7,606.7) {10uF};
    \node[lb] (l8p) at (626,657.3) {7};
    \node[lb] (l8q) at (635,657.3) {8};
    \node[lb] (l8r) at (644,657.3) {1};
    \node[lb] (l8s) at (652.7,657.3) {2};
    \node[lb] (l8t) at (630.7,686) {OUT};
    \node[lb] (l8u) at (639.7,686) {OUT};
    \node[lb] (l8v) at (648.3,695) {FB/SENSE};
    \node[lb] (l8w) at (657.7,690) {\ovr{RESET}};
    \node[lb] (l8x) at (630.7,725.7) {IN};
    \node[lb] (l8y) at (639.7,725.7) {IN};
    \node[lb] (l8z) at (648.3,725.7) {\ovr{EN}};
    \node[lb] (l8aa) at (657.7,723.3) {GND};
    \node[lb] (l8ab) at (617.3,730) {U3};
    \node[lb] (l8ac) at (670,716.7) {TPS77133DGK};
    \node[lb] (l8ad) at (626,749.3) {5};
    \node[lb] (l8ae) at (635,749.3) {6};
    \node[lb] (l8af) at (644,749.3) {3};
    \node[lb] (l8ag) at (652.7,749.3) {4};
    \node[lb] (l8ah) at (617.7,796) {USB5V};
    \node[lb] (l8ai) at (643.3,786.7) {C3};
    \node[lb] (l8aj) at (652.7,785) {4.3uF};
\end{tikzpicture}
\end{document}
